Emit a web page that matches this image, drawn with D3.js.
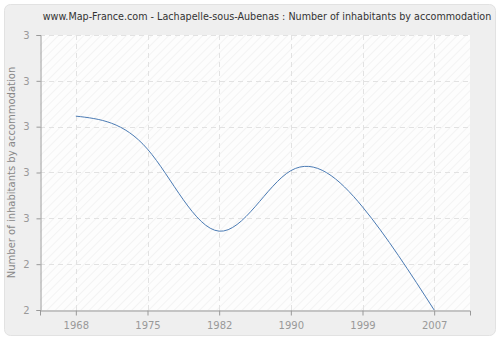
<!DOCTYPE html>
<html>
<head>
<meta charset="utf-8">
<script src="https://cdn.jsdelivr.net/npm/d3@7"></script>
<style>
  body { margin: 0; background: #fff; }
  svg { display: block; font-family: "DejaVu Sans", Verdana, sans-serif; }
</style>
</head>
<body>
<svg id="chart"></svg>
<script>
const width = 500;
const height = 340;

const years = ["1968", "1975", "1982", "1990", "1999", "2007"];
const inhabitants = [2.723, 2.651, 2.472, 2.604, 2.525, 2.3];
const yTicks = [2.3, 2.4, 2.5, 2.6, 2.7, 2.8, 2.9];

const margin = { top: 35, right: 30, bottom: 30, left: 40 };

const svg = d3.select("#chart").attr("width", width).attr("height", height);

// hatch pattern for the plot background
const defs = svg.append("defs");
const pat = defs.append("pattern")
    .attr("id", "hatch")
    .attr("patternUnits", "userSpaceOnUse")
    .attr("width", 6).attr("height", 6)
    .attr("patternTransform", "rotate(45)");
pat.append("rect").attr("width", 6).attr("height", 6).attr("fill", "#fdfdfd");
pat.append("line").attr("x1", 0).attr("y1", 0).attr("x2", 0).attr("y2", 6)
    .attr("stroke", "#f0f0f0").attr("stroke-width", 1.5);

// outer panel
svg.append("rect")
    .attr("x", 4.5).attr("y", 4.5)
    .attr("width", width - 9).attr("height", height - 9)
    .attr("rx", 6)
    .attr("fill", "#efefef")
    .attr("stroke", "#e2e2e2");

const x = d3.scalePoint().domain(years).range([margin.left, width - margin.right]).padding(0.5);
const y = d3.scaleLinear().domain([2.3, 2.9]).range([height - margin.bottom, margin.top]);

svg.append("rect")
    .attr("x", margin.left).attr("y", margin.top)
    .attr("width", width - margin.left - margin.right)
    .attr("height", height - margin.top - margin.bottom)
    .attr("fill", "url(#hatch)");

// grid
svg.append("g").selectAll("line").data(yTicks.slice(1)).enter().append("line")
    .attr("x1", margin.left).attr("x2", width - margin.right)
    .attr("y1", d => Math.round(y(d)) + 0.5).attr("y2", d => Math.round(y(d)) + 0.5)
    .attr("stroke", "#e2e2e2").attr("stroke-dasharray", "5,4");
svg.append("g").selectAll("line").data(years).enter().append("line")
    .attr("x1", d => Math.round(x(d)) + 0.5).attr("x2", d => Math.round(x(d)) + 0.5)
    .attr("y1", margin.top).attr("y2", height - margin.bottom)
    .attr("stroke", "#e2e2e2").attr("stroke-dasharray", "5,4");

// axes
const yAxis = svg.append("g")
    .attr("transform", `translate(${margin.left + 0.5},0)`)
    .call(d3.axisLeft(y).tickValues(yTicks).tickFormat(d3.format(".0f")).tickSize(4).tickPadding(7));
const xAxis = svg.append("g")
    .attr("transform", `translate(0,${height - margin.bottom + 0.5})`)
    .call(d3.axisBottom(x).tickSize(5).tickPadding(6));
[yAxis, xAxis].forEach(a => {
    a.select(".domain").attr("stroke", "#999");
    a.selectAll(".tick line").attr("stroke", "#999");
    a.selectAll(".tick text").attr("fill", "#999").style("font-size", "10px")
        .style("font-family", "DejaVu Sans, Verdana, sans-serif");
});

// line
const line = d3.line()
    .x((d, i) => x(years[i]))
    .y(d => y(d))
    .curve(d3.curveNatural);
svg.append("path")
    .datum(inhabitants)
    .attr("d", line)
    .attr("fill", "none")
    .attr("stroke", "#4b7bb4")
    .attr("stroke-width", 1);

// titles
svg.append("text")
    .attr("x", 267).attr("y", 20)
    .attr("text-anchor", "middle")
    .attr("fill", "#333")
    .style("font-size", "9.6px")
    .text("www.Map-France.com - Lachapelle-sous-Aubenas : Number of inhabitants by accommodation");

svg.append("text")
    .attr("transform", `translate(15,${(margin.top + height - margin.bottom) / 2}) rotate(-90)`)
    .attr("text-anchor", "middle")
    .attr("fill", "#888")
    .style("font-size", "10px")
    .text("Number of inhabitants by accommodation");
</script>
</body>
</html>
